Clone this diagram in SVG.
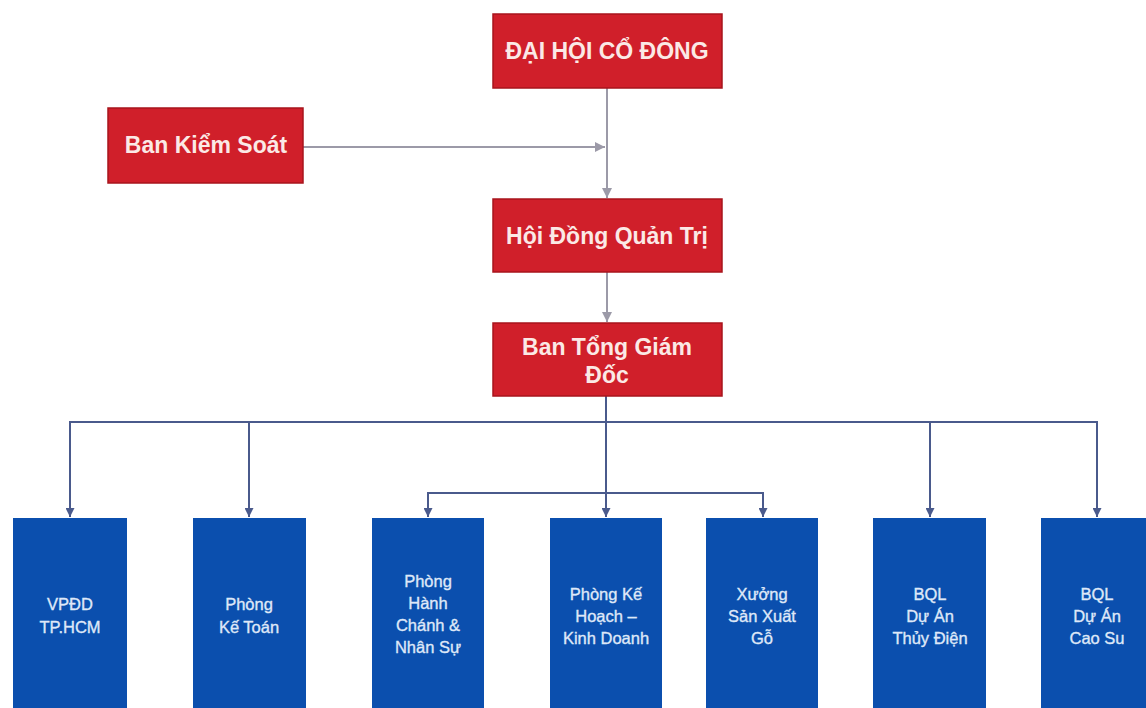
<svg xmlns="http://www.w3.org/2000/svg" width="1146" height="708" viewBox="0 0 1146 708">
<style>
.red{fill:#d01f2a;stroke:#a8141c;stroke-width:1.5}
.blue{fill:#0b4fae}
.rt{font-family:"Liberation Sans",Arial,sans-serif;font-weight:bold;font-size:23px;fill:#fbe9e6;text-anchor:middle}
.bt{font-family:"Liberation Sans",Arial,sans-serif;font-size:16.5px;fill:#dfe8f8;stroke:#dfe8f8;stroke-width:0.35;text-anchor:middle}
.cg{stroke:#9c9aa8;stroke-width:2;fill:none}
.cb{stroke:#4a5a8c;stroke-width:2;fill:none}
</style>
<defs>
<marker id="ag" viewBox="0 0 10 10" refX="10" refY="5" markerWidth="5" markerHeight="5" orient="auto" markerUnits="strokeWidth"><path d="M0,0L10,5L0,10z" fill="#9c9aa8"/></marker>
<marker id="ab" viewBox="0 0 10 10" refX="10" refY="5" markerWidth="4.5" markerHeight="4.5" orient="auto" markerUnits="strokeWidth"><path d="M0,0L10,5L0,10z" fill="#4a5a8c"/></marker>
</defs>
<rect width="1146" height="708" fill="#ffffff"/>
<g id="connectors">
<line class="cg" x1="607" y1="88" x2="607" y2="198" marker-end="url(#ag)"/>
<line class="cg" x1="303" y1="147" x2="605" y2="147" marker-end="url(#ag)"/>
<line class="cg" x1="607" y1="272" x2="607" y2="322" marker-end="url(#ag)"/>
<line class="cb" x1="606" y1="396" x2="606" y2="517" marker-end="url(#ab)"/>
<polyline class="cb" points="70,517 70,422 1097,422 1097,517" marker-end="url(#ab)"/>
<line class="cb" x1="70" y1="422" x2="70" y2="517" marker-end="url(#ab)"/>
<line class="cb" x1="249" y1="422" x2="249" y2="517" marker-end="url(#ab)"/>
<line class="cb" x1="930" y1="422" x2="930" y2="517" marker-end="url(#ab)"/>
<polyline class="cb" points="428,517 428,493 763,493 763,517" marker-end="url(#ab)"/>
<line class="cb" x1="428" y1="493" x2="428" y2="517" marker-end="url(#ab)"/>
</g>
<g id="dai-hoi"><rect class="red" x="493" y="14" width="229" height="74"/><text class="rt" x="607" y="59">ĐẠI HỘI CỔ ĐÔNG</text></g>
<g id="ban-kiem-soat"><rect class="red" x="108" y="108" width="195" height="75"/><text class="rt" x="206" y="153">Ban Kiểm Soát</text></g>
<g id="hoi-dong"><rect class="red" x="493" y="199" width="229" height="73"/><text class="rt" x="607" y="244">Hội Đồng Quản Trị</text></g>
<g id="ban-tong"><rect class="red" x="493" y="323" width="229" height="73"/><text class="rt" x="607" y="355">Ban Tổng Giám</text><text class="rt" x="607" y="383">Đốc</text></g>
<g id="vpdd"><rect class="blue" x="13" y="518" width="114" height="190"/><text class="bt" x="70" y="610">VPĐD</text><text class="bt" x="70" y="633">TP.HCM</text></g>
<g id="ke-toan"><rect class="blue" x="193" y="518" width="113" height="190"/><text class="bt" x="249" y="610">Phòng</text><text class="bt" x="249" y="633">Kế Toán</text></g>
<g id="hanh-chanh"><rect class="blue" x="372" y="518" width="112" height="190"/><text class="bt" x="428" y="587">Phòng</text><text class="bt" x="428" y="609">Hành</text><text class="bt" x="428" y="631">Chánh &amp;</text><text class="bt" x="428" y="653">Nhân Sự</text></g>
<g id="ke-hoach"><rect class="blue" x="550" y="518" width="112" height="190"/><text class="bt" x="606" y="600">Phòng Kế</text><text class="bt" x="606" y="622">Hoạch –</text><text class="bt" x="606" y="644">Kinh Doanh</text></g>
<g id="xuong"><rect class="blue" x="706" y="518" width="112" height="190"/><text class="bt" x="762" y="600">Xưởng</text><text class="bt" x="762" y="622">Sản Xuất</text><text class="bt" x="762" y="644">Gỗ</text></g>
<g id="thuy-dien"><rect class="blue" x="873" y="518" width="113" height="190"/><text class="bt" x="930" y="600">BQL</text><text class="bt" x="930" y="622">Dự Án</text><text class="bt" x="930" y="644">Thủy Điện</text></g>
<g id="cao-su"><rect class="blue" x="1041" y="518" width="113" height="190"/><text class="bt" x="1097" y="600">BQL</text><text class="bt" x="1097" y="622">Dự Án</text><text class="bt" x="1097" y="644">Cao Su</text></g>
</svg>
